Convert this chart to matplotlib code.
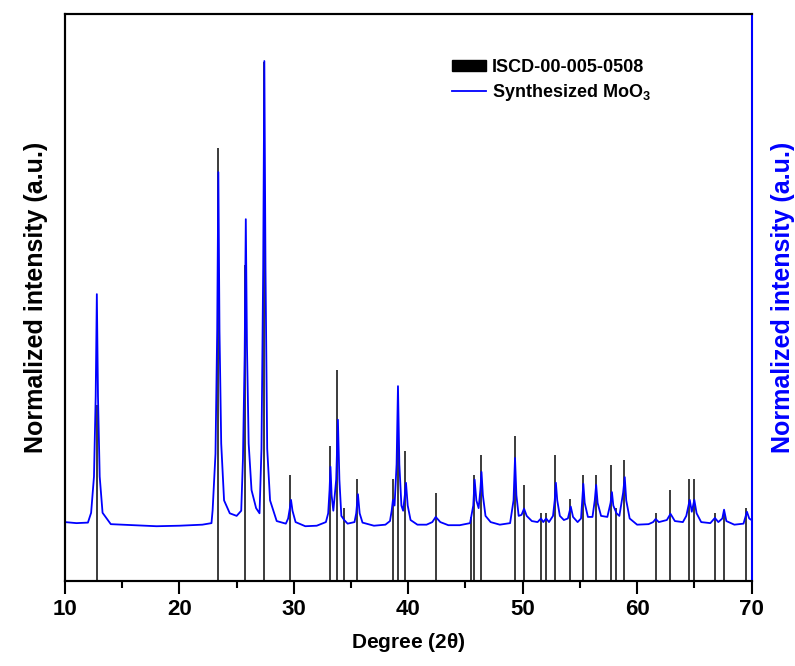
import matplotlib
matplotlib.use("Agg")
import matplotlib.pyplot as plt
from matplotlib.patches import Patch
from matplotlib.lines import Line2D
from matplotlib.ticker import MultipleLocator

plt.rcParams['font.family'] = ['Liberation Sans', 'DejaVu Sans']
plt.rcParams['font.weight'] = 'bold'
plt.rcParams['mathtext.default'] = 'regular'

# reference card sticks (2theta, relative intensity)
ref_deg = [12.76, 23.35, 25.72, 27.35, 29.70, 33.16, 33.80, 34.39, 35.56, 38.65,
           39.08, 39.75, 42.40, 45.46, 45.78, 46.36, 49.30, 50.10, 51.57, 52.07,
           52.85, 54.16, 55.24, 56.40, 57.71, 58.12, 58.88, 61.62, 62.90, 64.56,
           64.94, 66.80, 67.58, 69.54]
ref_int = [34, 83.5, 61, 100, 20.5, 26.0, 40.7, 14.0, 19.6, 19.6,
           31, 25.1, 16.9, 12.4, 20.5, 24.2, 27.9, 18.6, 13.2, 13.2,
           24.2, 15.9, 20.5, 20.5, 22.3, 14.1, 23.3, 13.2, 17.6, 19.6,
           19.6, 13.2, 13.2, 14.1]

# synthesized MoO3 pattern
blue_deg = [
    10.0, 11.0, 12.0,
    12.28, 12.53, 12.68, 12.78, 12.88, 13.03, 13.28,
    14.0, 16.0, 18.0, 20.0, 22.0, 22.8,
    22.90, 23.15, 23.30, 23.40, 23.50, 23.65, 23.90, 24.4, 25.0, 25.4,
    25.55, 25.70, 25.80, 25.90, 26.05, 26.3, 26.7, 27.0,
    27.17, 27.32, 27.42, 27.52, 27.67, 27.92, 28.5, 29.3,
    29.50, 29.65, 29.75, 29.88, 30.15, 31.0, 32.0, 32.8,
    33.00, 33.12, 33.20, 33.30, 33.45,
    33.70, 33.85, 33.98, 34.15, 34.4, 34.7, 35.3,
    35.45, 35.60, 35.75, 36.0, 37.0, 38.0, 38.4,
    38.55, 38.66, 38.80,
    38.98, 39.10, 39.22, 39.40, 39.55,
    39.70, 39.80, 39.95, 40.2, 40.8, 41.6, 42.1,
    42.40, 42.8, 43.5, 44.5, 45.4,
    45.68, 45.80, 45.95, 46.15,
    46.30, 46.40, 46.52, 46.75, 47.2, 48.0, 48.9,
    49.20, 49.33, 49.45, 49.65, 49.9,
    50.12, 50.35, 50.8, 51.3, 51.6, 51.8, 52.05, 52.3, 52.65,
    52.80, 52.90, 53.02, 53.25, 53.6, 53.95,
    54.20, 54.40, 54.8, 55.1,
    55.20, 55.30, 55.42, 55.7, 56.1,
    56.30, 56.42, 56.55, 56.85, 57.4,
    57.68, 57.80, 57.92, 58.2, 58.45,
    58.78, 58.92, 59.05, 59.35, 60.0, 61.0, 61.4,
    61.62, 61.9, 62.6, 62.92, 63.3, 64.0, 64.3,
    64.60, 64.78, 65.00, 65.2, 65.6, 66.4,
    66.80, 67.1, 67.45, 67.60, 67.8, 68.5, 69.3,
    69.60, 69.8, 70.0,
]
blue_int = [
    0.108, 0.106, 0.107,
    0.126, 0.196, 0.351, 0.549, 0.351, 0.196, 0.126,
    0.104, 0.102, 0.100, 0.101, 0.103, 0.106,
    0.131, 0.24, 0.478, 0.785, 0.478, 0.26, 0.15, 0.125, 0.12, 0.13,
    0.23, 0.43, 0.694, 0.45, 0.26, 0.17, 0.135, 0.125,
    0.25, 0.60, 1.0, 0.60, 0.25, 0.15, 0.11, 0.105,
    0.115, 0.135, 0.151, 0.13, 0.108, 0.100, 0.101, 0.108,
    0.125, 0.17, 0.215, 0.16, 0.13,
    0.19, 0.306, 0.19, 0.12, 0.112, 0.105, 0.108,
    0.125, 0.162, 0.125, 0.107, 0.101, 0.103, 0.11,
    0.13, 0.151, 0.14,
    0.22, 0.371, 0.22, 0.14, 0.13,
    0.16, 0.184, 0.14, 0.112, 0.103, 0.103, 0.108,
    0.118, 0.108, 0.102, 0.102, 0.106,
    0.14, 0.19, 0.15, 0.135,
    0.17, 0.205, 0.16, 0.12, 0.108, 0.103, 0.106,
    0.15, 0.232, 0.16, 0.12, 0.122,
    0.134, 0.12, 0.11, 0.108, 0.115, 0.108, 0.115, 0.108, 0.12,
    0.15, 0.184, 0.15, 0.12, 0.112, 0.115,
    0.138, 0.118, 0.108, 0.115,
    0.15, 0.182, 0.145, 0.118, 0.118,
    0.15, 0.18, 0.145, 0.12, 0.118,
    0.145, 0.166, 0.14, 0.125, 0.12,
    0.165, 0.195, 0.15, 0.115, 0.103, 0.104, 0.108,
    0.114, 0.108, 0.112, 0.124, 0.11, 0.108, 0.12,
    0.151, 0.128, 0.151, 0.125, 0.108, 0.106,
    0.116, 0.108, 0.115, 0.132, 0.11, 0.103, 0.105,
    0.128, 0.115, 0.112,
]

blue = '#0000ff'
spine_w = 1.5

fig = plt.figure(figsize=(7.95, 6.66), dpi=100)
ax = fig.add_axes([0.0818, 0.1276, 0.8635, 0.8514])
ax2 = ax.twinx()

# sticks on the left axis
ax.vlines(ref_deg, 0, ref_int, color='#1a1a1a', linewidth=1.2)
ax.set_xlim(10, 70)
ax.set_ylim(0, 109.3)

# measured curve on the right axis
ax2.plot(blue_deg, blue_int, color=blue, linewidth=1.3)
ax2.set_ylim(-0.006, 1.091)

ax.xaxis.set_major_locator(MultipleLocator(10))
ax.xaxis.set_minor_locator(MultipleLocator(5))
ax.tick_params(axis='x', which='major', direction='out', length=9, width=spine_w,
               labelsize=16, pad=4)
ax.tick_params(axis='x', which='minor', direction='out', length=5, width=spine_w)
ax.tick_params(axis='y', left=False, labelleft=False)
ax2.tick_params(axis='y', right=False, labelright=False)
for lbl in ax.get_xticklabels():
    lbl.set_fontweight('bold')

for sp in ['left', 'bottom', 'top']:
    ax.spines[sp].set_linewidth(spine_w)
    ax2.spines[sp].set_linewidth(spine_w)
ax2.spines['right'].set_color(blue)
ax2.spines['right'].set_linewidth(spine_w)
ax.spines['right'].set_visible(False)

ax.set_xlabel(r'Degree (2$\theta$)', fontsize=15, fontweight='bold', labelpad=8)
ax.set_ylabel('Normalized intensity (a.u.)', fontsize=18, fontweight='bold', labelpad=12)
ax2.set_ylabel('Normalized intensity (a.u.)', fontsize=18, fontweight='bold',
               color=blue, labelpad=14)

handles = [Patch(facecolor='black', edgecolor='black'),
           Line2D([0], [0], color=blue, linewidth=1.3)]
labels = ['ISCD-00-005-0508', r'Synthesized MoO$_3$']
fig.legend(handles, labels, loc='upper left', bbox_to_anchor=(0.557, 0.925),
           frameon=False, fontsize=13, prop={'weight': 'bold', 'size': 13},
           borderpad=0, handlelength=1.9, handleheight=0.6, handletextpad=0.3,
           labelspacing=0.35)

fig.savefig('out.png', dpi=100)
